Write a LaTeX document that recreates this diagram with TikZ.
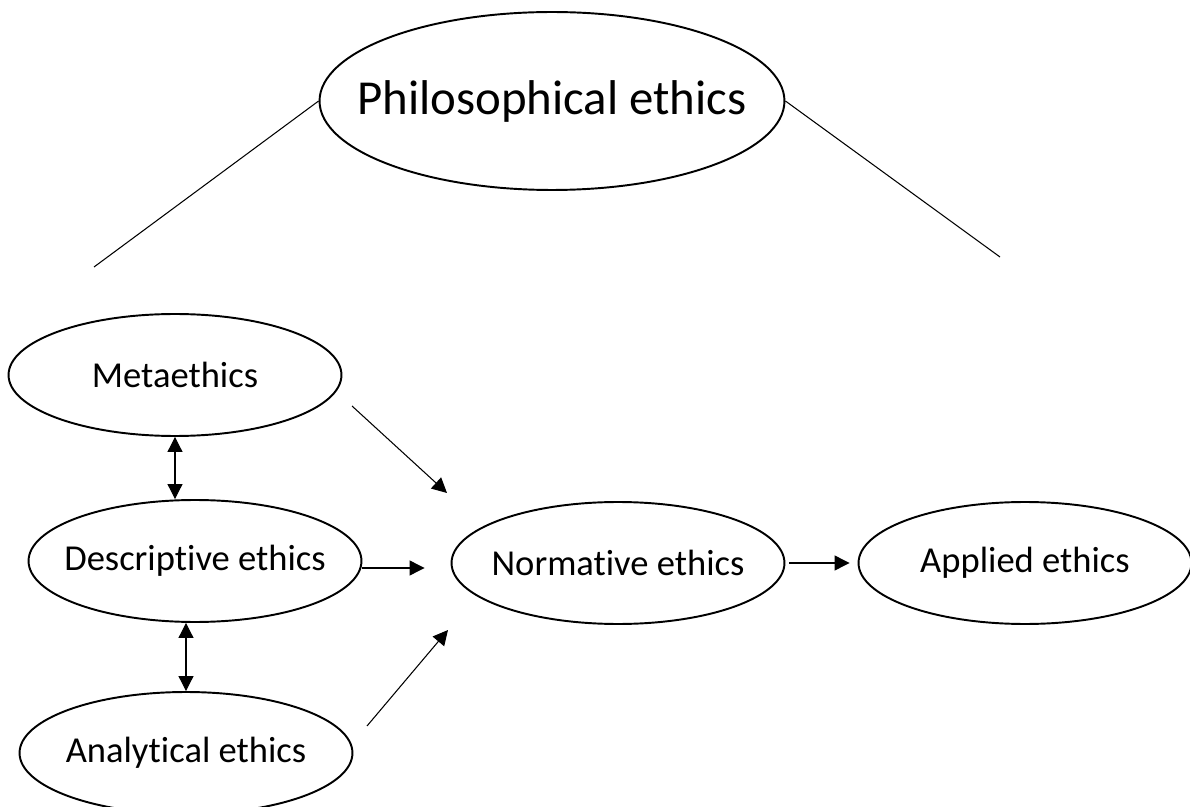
\documentclass[tikz,border=0pt]{standalone}
\usepackage{fontspec}
\setmainfont{Carlito}[Ligatures={NoCommon,NoContextual}]
\usetikzlibrary{shapes.geometric,arrows.meta}

\begin{document}
\begin{tikzpicture}[x=0.02cm,y=-0.02cm,
  branch/.style={ellipse,draw,line width=1.1pt,inner sep=0pt,
    minimum width=6.66cm,minimum height=2.44cm,font=\fontsize{20.8}{25}\selectfont,
    execute at begin node={\hbox to 0pt\bgroup\hss},
    execute at end node={\hss\egroup}},
  link/.style={line width=0.6pt},
  arr/.style={link,-{Triangle[length=8.5pt,width=8.5pt]}},
  dbl/.style={link,{Triangle[length=8.5pt,width=8.5pt]}-{Triangle[length=8.5pt,width=8.5pt]}}]

  \useasboundingbox (0,0) rectangle (1190,807);

  %% ---- Top: the whole field ----
  \node[branch,minimum width=9.3cm,minimum height=3.56cm,
    font=\fontsize{27.8}{33}\selectfont] (phil) at (552,101) {Philosophical ethics};
  \coordinate (leftfoot) at (94,267);
  \coordinate (rightfoot) at (1000,257);
  \draw[link] (phil.west) -- (leftfoot);
  \draw[link] (phil.east) -- (rightfoot);

  %% ---- Left column ----
  \node[branch] (meta) at (175,375) {Metaethics};
  \node[branch] (desc) at (195,561) {Descriptive ethics};
  \node[branch] (anal) at (186,753) {Analytical ethics};

  %% ---- Middle row ----
  \node[branch] (norm) at (618,563) {Normative ethics};
  \node[branch] (appl) at (1025,563) {Applied ethics};

  % two-way links in the left column
  \draw[dbl] (meta.south) -- (meta.south |- desc.north);
  \draw[dbl] (anal.north |- desc.south) -- (anal.north);

  % everything feeds into normative ethics
  \coordinate (metaout) at (352,406);
  \coordinate (normin1) at (447,493);
  \coordinate (analout) at (367,726);
  \coordinate (normin2) at (448,630);
  \draw[arr] (metaout) -- (normin1);
  \draw[arr,shorten >=0.52cm] ([yshift=-0.14cm]desc.east) -- ([yshift=-0.14cm]desc.east -| norm.west);
  \draw[arr] (analout) -- (normin2);

  % normative -> applied
  \draw[arr,shorten <=0.08cm,shorten >=0.16cm] (norm.east) -- (appl.west);

\end{tikzpicture}
\end{document}
